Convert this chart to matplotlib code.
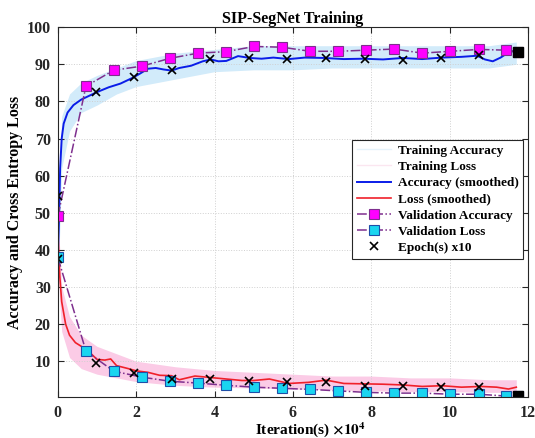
import matplotlib

matplotlib.use("Agg")
import matplotlib.pyplot as plt
import numpy as np

plt.rcParams["font.family"] = ["Liberation Serif", "DejaVu Serif"]
plt.rcParams["font.weight"] = "bold"
plt.rcParams["mathtext.fontset"] = "stix"

# iterations in units of 1e4
band_x = [0, 0.05, 0.1, 0.3, 0.6, 1.0, 1.5, 2.0, 3.0, 4.0, 5.0, 6.0, 7.0, 8.0, 9.0, 10.0, 11.0, 11.7]
acc_upper = [42, 62, 76, 82, 85, 87, 89, 91, 93, 94, 95, 95, 95, 95, 95, 95, 95, 96]
acc_lower = [30, 45, 62, 72, 77, 79, 82, 84, 86, 88, 88.5, 88.5, 89, 89, 89, 89, 89, 90]
loss_upper = [50, 40, 30, 22, 17, 14, 12, 10, 8.5, 7.5, 7, 6.5, 6, 6, 5.5, 5.5, 5, 5]
loss_lower = [38, 26, 18, 11, 8, 6.5, 5.5, 4.5, 3.5, 3, 2.8, 2.5, 2.3, 2, 1.8, 1.8, 1.6, 1.6]

acc_s_x = [0, 0.03, 0.06, 0.1, 0.15, 0.25, 0.4, 0.6, 0.8, 1.0, 1.3, 1.6, 1.9, 2.1, 2.3,
           2.5, 2.7, 2.9, 3.1, 3.4, 3.7, 3.9, 4.1, 4.3, 4.6, 4.9, 5.2, 5.5, 5.9, 6.3,
           6.8, 7.3, 7.8, 8.3, 8.8, 9.3, 9.8, 10.3, 10.7, 10.9, 11.1, 11.3, 11.5, 11.65]
acc_s_y = [37, 48, 62, 70, 74, 77, 79, 80.5, 81.5, 82.5, 83.8, 84.8, 86.3, 87.5, 88.8,
           89.0, 88.6, 88.3, 89.0, 89.6, 90.8, 91.3, 90.8, 90.9, 92.2, 91.7, 91.5, 91.8, 91.4, 91.8,
           91.7, 91.4, 91.5, 91.3, 91.7, 91.4, 91.8, 92.0, 92.3, 91.3, 90.8, 91.8, 93.2, 93.6]

loss_s_x = [0, 0.05, 0.1, 0.2, 0.3, 0.45, 0.6, 0.8, 1.0, 1.2, 1.35, 1.5, 1.8, 2.0, 2.3,
            2.6, 2.9, 3.1, 3.5, 3.9, 4.3, 4.7, 5.0, 5.4, 5.9, 6.4, 6.85, 7.3, 7.8, 8.3,
            8.8, 9.3, 9.8, 10.3, 10.8, 11.2, 11.5, 11.7]
loss_s_y = [45, 33, 26, 20, 17, 15, 14, 12.5, 10.5, 10.3, 10.6, 8.8, 8.0, 7.4, 7.0,
            6.2, 6.1, 5.0, 6.0, 5.6, 5.2, 4.8, 4.8, 5.2, 4.0, 4.3, 4.9, 4.0, 3.9, 3.8,
            3.6, 3.2, 3.4, 3.0, 3.2, 3.0, 2.5, 3.0]

val_x = [0, 0.72, 1.43, 2.15, 2.86, 3.58, 4.30, 5.01, 5.72, 6.44, 7.16, 7.87, 8.59,
         9.30, 10.02, 10.74, 11.45, 11.74]
val_acc = [49, 84.1, 88.4, 89.5, 91.6, 93.0, 93.4, 94.8, 94.6, 93.5, 93.5, 93.8, 94.1,
           93.0, 93.5, 94.0, 93.8, 93.3]
val_loss = [38, 12.7, 7.3, 5.7, 4.6, 4.1, 3.5, 3.0, 2.7, 2.4, 2.0, 1.6, 1.4,
            1.4, 1.1, 1.1, 0.6, 0.6]

epoch_x = [0, 0.97, 1.94, 2.92, 3.89, 4.87, 5.86, 6.85, 7.83, 8.80, 9.77, 10.74]
epoch_acc = [54.5, 82.4, 86.5, 88.4, 91.3, 91.7, 91.3, 91.6, 91.3, 91.1, 91.6, 92.4]
epoch_loss = [37.6, 9.5, 6.8, 5.1, 5.1, 4.6, 4.3, 4.3, 3.2, 3.2, 3.0, 3.0]

purple = "#7e2f8e"

fig = plt.figure(figsize=(5.35, 4.38), dpi=100)
ax = fig.add_axes([0.108, 0.094, 0.879, 0.844])

ax.fill_between(band_x, acc_lower, acc_upper, color="#d2ebfa", lw=0)
ax.fill_between(band_x, loss_lower, loss_upper, color="#fbcbe6", lw=0)
ax.plot([], [], color="#e6f3fb", lw=1, label="Training Accuracy")
ax.plot([], [], color="#fbe6f0", lw=1, label="Training Loss")

ax.plot(acc_s_x, acc_s_y, color="#0a1de8", lw=1.4, label="Accuracy (smoothed)")
ax.plot(loss_s_x, loss_s_y, color="#f0202a", lw=1.2, label="Loss (smoothed)")

ax.plot(val_x, val_acc, ls="-.", color=purple, lw=1.1, marker="s", ms=6.5,
        mfc="#ff00ff", mec=purple, mew=0.8, label="Validation Accuracy")
ax.plot(val_x, val_loss, ls="-.", color=purple, lw=1.1, marker="s", ms=6.5,
        mfc="#1ad5f0", mec="#1f4fa8", mew=0.8, label="Validation Loss")
ax.plot(val_x[-1:], val_acc[-1:], ls="none", marker="s", ms=6.5, color="black")
ax.plot(val_x[-1:], val_loss[-1:], ls="none", marker="s", ms=6.5, color="black")

ax.plot(epoch_x, epoch_acc, ls="none", marker="x", ms=5.5, mew=1.2, color="black",
        label="Epoch(s) x10")
ax.plot(epoch_x, epoch_loss, ls="none", marker="x", ms=5.5, mew=1.2, color="black")

ax.set_xlim(0, 12)
ax.set_ylim(0.4, 100)
ax.set_xticks([0, 2, 4, 6, 8, 10, 12])
ax.set_yticks([10, 20, 30, 40, 50, 60, 70, 80, 90, 100])
ax.grid(True, ls=":", color="#d0d0d0", lw=0.7)
ax.tick_params(direction="in", top=True, right=True, length=4, width=0.8,
               labelsize=11.5, colors="#262626", pad=5)
ax.tick_params(axis="x", pad=6)
for lab in ax.get_xticklabels() + ax.get_yticklabels():
    lab.set_fontweight("bold")
for sp in ax.spines.values():
    sp.set_color("#262626")
    sp.set_linewidth(0.8)

ax.set_title("SIP-SegNet Training", fontsize=11.5, fontweight="bold", pad=3)
ax.set_xlabel(r"Iteration(s) $\times\mathbf{10}^{\mathbf{4}}$", fontsize=11, fontweight="bold")
ax.xaxis.set_label_coords(0.538, -0.064)
ax.set_ylabel("Accuracy and Cross Entropy Loss", fontsize=11.5, fontweight="bold", labelpad=3)

leg = ax.legend(loc="upper right", bbox_to_anchor=(0.99, 0.695), borderaxespad=0,
                prop={"weight": "bold", "size": 9.5}, fancybox=False, framealpha=1,
                edgecolor="#262626", labelspacing=0.3, handlelength=2.6,
                borderpad=0.35, handletextpad=0.5)
leg.get_frame().set_linewidth(0.8)

fig.savefig("out.png", dpi=100)
